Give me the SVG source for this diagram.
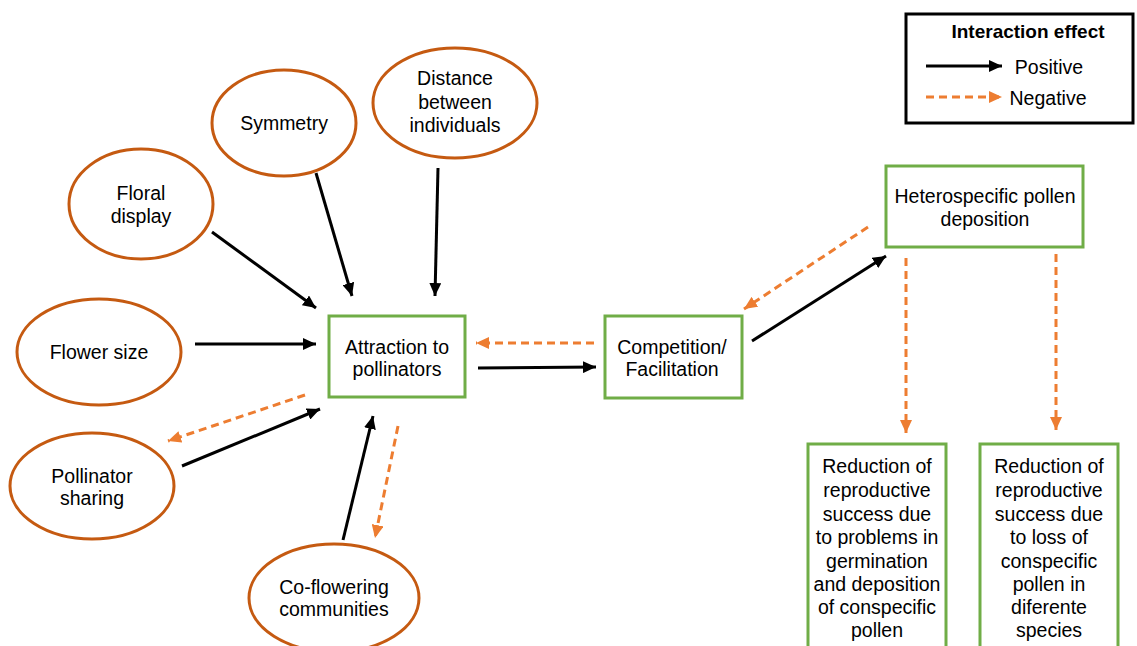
<svg xmlns="http://www.w3.org/2000/svg" width="1137" height="646" viewBox="0 0 1137 646">
<style>
.ell{fill:#fff;stroke:#C55A11;stroke-width:3}
.box{fill:#fff;stroke:#70AD47;stroke-width:3}
text{font-family:"Liberation Sans",Arial,sans-serif;font-size:19.5px;fill:#000;text-anchor:middle;dominant-baseline:central}
.pos{stroke:#000;stroke-width:3;fill:none;marker-end:url(#hb)}
.neg{stroke:#ED7D31;stroke-width:3;fill:none;stroke-dasharray:8 5;marker-end:url(#ho)}
</style>
<defs>
<marker id="hb" markerUnits="userSpaceOnUse" markerWidth="14" markerHeight="12" refX="13" refY="6" orient="auto"><path d="M0,0 L13,6 L0,12 z" fill="#000"/></marker>
<marker id="ho" markerUnits="userSpaceOnUse" markerWidth="14" markerHeight="12" refX="13" refY="6" orient="auto"><path d="M0,0 L13,6 L0,12 z" fill="#ED7D31"/></marker>
</defs>
<rect width="1137" height="646" fill="#fff"/>

<g id="legend">
<rect x="906" y="14" width="227" height="109" fill="#fff" stroke="#000" stroke-width="3"/>
<text x="1028" y="31" style="font-weight:bold;font-size:19px">Interaction effect</text>
<line x1="926" y1="66" x2="1002" y2="66" class="pos"/>
<text x="1049" y="67">Positive</text>
<line x1="926" y1="97" x2="1002" y2="97" class="neg"/>
<text x="1048" y="98">Negative</text>
</g>

<g id="symmetry"><ellipse class="ell" cx="284" cy="123" rx="72" ry="53"/><text x="284" y="123">Symmetry</text></g>
<g id="distance"><ellipse class="ell" cx="455" cy="103" rx="82" ry="55"/><text x="455" y="78">Distance</text><text x="455" y="102">between</text><text x="455" y="125">individuals</text></g>
<g id="floral"><ellipse class="ell" cx="141" cy="204" rx="72" ry="55"/><text x="141" y="193">Floral</text><text x="141" y="216">display</text></g>
<g id="flowersize"><ellipse class="ell" cx="99" cy="352" rx="82" ry="53"/><text x="99" y="352">Flower size</text></g>
<g id="pollsharing"><ellipse class="ell" cx="92" cy="486" rx="82" ry="53"/><text x="92" y="476">Pollinator</text><text x="92" y="498">sharing</text></g>
<g id="coflowering"><ellipse class="ell" cx="334" cy="598" rx="85" ry="54"/><text x="334" y="587">Co-flowering</text><text x="334" y="609">communities</text></g>

<g id="attraction"><rect class="box" x="329" y="316" width="136" height="81"/><text x="397" y="347">Attraction to</text><text x="397" y="369">pollinators</text></g>
<g id="competition"><rect class="box" x="605" y="316" width="137" height="82"/><text x="672" y="347">Competition/</text><text x="672" y="369">Facilitation</text></g>
<g id="hetero"><rect class="box" x="886" y="166" width="197" height="81"/><text x="985" y="196">Heterospecific pollen</text><text x="985" y="219">deposition</text></g>
<g id="reduction1"><rect class="box" x="808" y="444" width="138" height="210"/>
<text x="877" y="466">Reduction of</text><text x="877" y="490">reproductive</text><text x="877" y="514">success due</text><text x="877" y="537">to problems in</text><text x="877" y="561">germination</text><text x="877" y="584">and deposition</text><text x="877" y="607">of conspecific</text><text x="877" y="630">pollen</text></g>
<g id="reduction2"><rect class="box" x="980" y="444" width="138" height="210"/>
<text x="1049" y="466">Reduction of</text><text x="1049" y="490">reproductive</text><text x="1049" y="514">success due</text><text x="1049" y="537">to loss of</text><text x="1049" y="561">conspecific</text><text x="1049" y="584">pollen in</text><text x="1049" y="607">diferente</text><text x="1049" y="630">species</text></g>

<g id="connectors">
<line class="pos" x1="212" y1="232" x2="316" y2="308"/>
<line class="pos" x1="316" y1="173" x2="352" y2="296"/>
<line class="pos" x1="438" y1="168" x2="435" y2="296"/>
<line class="pos" x1="195" y1="344" x2="316" y2="344"/>
<line class="pos" x1="182" y1="466" x2="320" y2="409"/>
<line class="neg" x1="305" y1="395" x2="168" y2="441"/>
<line class="pos" x1="343" y1="540" x2="373" y2="416"/>
<line class="neg" x1="398" y1="426" x2="375" y2="538"/>
<line class="pos" x1="478" y1="368" x2="596" y2="367"/>
<line class="neg" x1="594" y1="343" x2="476" y2="343"/>
<line class="pos" x1="752" y1="341" x2="886" y2="256"/>
<line class="neg" x1="868" y1="227" x2="744" y2="309"/>
<line class="neg" x1="906" y1="258" x2="906" y2="433"/>
<line class="neg" x1="1056" y1="254" x2="1056" y2="430"/>
</g>
</svg>
